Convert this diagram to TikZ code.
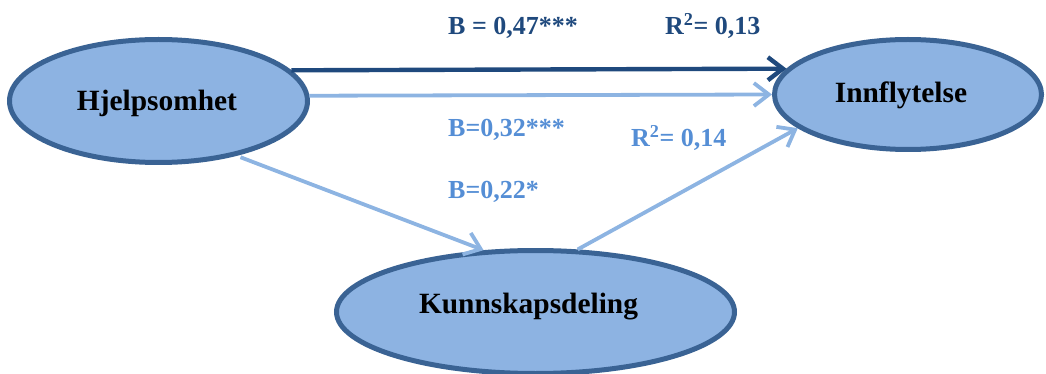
\documentclass[tikz,border=0pt]{standalone}
\usepackage{fontspec}
\setmainfont{Liberation Serif}
\usetikzlibrary{shapes.geometric,arrows.meta}
\definecolor{ovalfill}{HTML}{8DB3E2}
\definecolor{ovalline}{HTML}{3A6394}
\definecolor{darkpath}{HTML}{1F497D}
\definecolor{lightpath}{HTML}{8DB4E2}
\definecolor{lightlabel}{HTML}{558ED5}
\begin{document}
\begin{tikzpicture}[x=1pt,y=-1pt,
  oval/.style={ellipse, draw=ovalline, fill=ovalfill, line width=5pt, inner sep=0pt},
  nodetext/.style={font=\bfseries\fontsize{29.4}{34}\selectfont, text=black, anchor=base, inner sep=0pt},
  coef/.style={font=\bfseries\fontsize{26}{30}\selectfont, anchor=base west, inner sep=0pt},
  darkcoef/.style={coef, text=darkpath},
  lightcoef/.style={coef, text=lightlabel},
  patharrow/.style={line width=4.4pt, -{Straight Barb[length=15pt,width=23pt]}},
  darkarrow/.style={patharrow, draw=darkpath},
  lightarrow/.style={patharrow, draw=lightpath, line width=3.8pt}]
\useasboundingbox (0,0) rectangle (1046,374);
\clip (0,0) rectangle (1046,374);

% latent variables
\node[oval, minimum width=298pt, minimum height=123pt] (hj) at (158.5,101) {};
\node[oval, minimum width=267pt, minimum height=110pt] (inn) at (908,94.5) {};
\node[oval, minimum width=398pt, minimum height=123pt] (kd) at (535.5,312) {};

\node[nodetext] (hjt) at (157,111) {Hjelpsomhet};
\node[nodetext] (innt) at (901,103) {Innflytelse};
\node[nodetext] (kdt) at (528.5,313) {Kunnskapsdeling};

% paths
\draw[darkarrow] (hj.13.6) -- (inn.168.1);
\draw[lightarrow] (hj.2.3) -- (inn.180);
\draw[lightarrow, shorten <=4pt] (hj.-35) -- (kd.130.8);
\draw[lightarrow] (kd.56.6) -- (inn.197.7);

% coefficients
\node[darkcoef] (b1) at (448,35) {B = 0,47***};
\node[darkcoef] (r1) at (665,35) {R\textsuperscript{2}= 0,13};
\node[lightcoef] (b2) at (448,137) {B=0,32***};
\node[lightcoef] (r2) at (631,147) {R\textsuperscript{2}= 0,14};
\node[lightcoef] (b3) at (448,198) {B=0,22*};
\end{tikzpicture}
\end{document}
